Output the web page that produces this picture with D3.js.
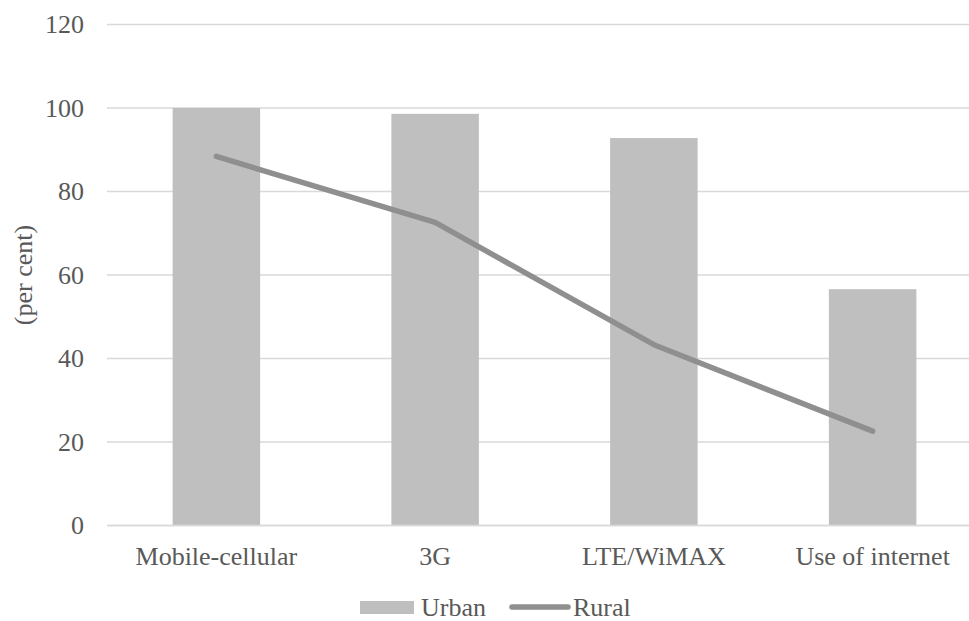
<!DOCTYPE html>
<html><head><meta charset="utf-8">
<script src="https://cdn.jsdelivr.net/npm/d3@7"></script>
<style>
body{margin:0;background:#fff}
svg{display:block}
svg text, svg g{font-family:"Liberation Serif","Times New Roman",Tinos,serif !important}
</style>
</head><body>
<svg id="c" width="969" height="621" font-family="Liberation Serif"></svg>
<script>
const categories = ["Mobile-cellular", "3G", "LTE/WiMAX", "Use of internet"];
const urban = [100, 98.6, 92.8, 56.6];
const rural = [88.4, 72.6, 43.3, 22.6];
const yTicks = [0, 20, 40, 60, 80, 100, 120];
const seriesNames = ["Urban", "Rural"];

(function () {
const svg = d3.select("#c");
const textColor = "#595959";
const ff = "Liberation Serif";
const fs = 26;
const mLeft = 107, mRight = 982, mTop = 24.5, mBottom = 525.5;

function styleText(sel) {
  sel.attr("font-family", ff).attr("font-size", fs)
     .style("font-family", '"Liberation Serif", serif').attr("fill", textColor);
}

const x = d3.scaleBand().domain(categories).range([mLeft, mRight]).padding(0);
const y = d3.scaleLinear().domain([0, 120]).range([mBottom, mTop]);

// gridlines
svg.append("g").selectAll("line").data(yTicks).join("line")
  .attr("x1", mLeft).attr("x2", mRight)
  .attr("y1", d => y(d)).attr("y2", d => y(d))
  .attr("stroke", "#d9d9d9").attr("stroke-width", 1.5);

// y axis labels
const yAxis = d3.axisLeft(y).tickValues(yTicks).tickSize(0).tickPadding(0);
const gy = svg.append("g").attr("transform", `translate(${mLeft - 23},0)`).call(yAxis);
gy.attr("font-family", ff).attr("font-size", fs);
gy.select(".domain").remove();
styleText(gy.selectAll("text"));

// bars
const bw = x.bandwidth() * 0.4;
svg.append("g").selectAll("rect").data(categories).join("rect")
  .attr("x", d => x(d) + x.bandwidth() / 2 - bw / 2)
  .attr("width", bw)
  .attr("y", (d, i) => y(urban[i]))
  .attr("height", (d, i) => y(0) - y(urban[i]))
  .attr("fill", "#bfbfbf");

// axis baseline
svg.append("line").attr("x1", mLeft).attr("x2", mRight).attr("y1", y(0)).attr("y2", y(0))
  .attr("stroke", "#d9d9d9").attr("stroke-width", 1.5);

// x axis labels
const xAxis = d3.axisBottom(x).tickSize(0).tickPadding(0);
const gx = svg.append("g").attr("transform", `translate(0,565)`).call(xAxis);
gx.attr("font-family", ff).attr("font-size", fs);
gx.select(".domain").remove();
styleText(gx.selectAll("text"));
gx.selectAll("text").attr("y", 0).attr("dy", 0);

// line
const line = d3.line().x((d, i) => x(categories[i]) + x.bandwidth() / 2).y(d => y(d));
svg.append("path").datum(rural).attr("d", line)
  .attr("fill", "none").attr("stroke", "#8f8f8f").attr("stroke-width", 5.5)
  .attr("stroke-linecap", "round").attr("stroke-linejoin", "round");

// y title
const yt = svg.append("text").attr("transform", `translate(22.5,275) rotate(-90)`)
  .attr("text-anchor", "middle").attr("dy", "0.35em").text("(per cent)");
styleText(yt);

// legend
const lg = svg.append("g");
lg.append("rect").attr("x", 360).attr("y", 601).attr("width", 54).attr("height", 13).attr("fill", "#bfbfbf");
styleText(lg.append("text").attr("x", 421).attr("y", 616).text(seriesNames[0]));
lg.append("line").attr("x1", 512).attr("x2", 568).attr("y1", 607).attr("y2", 607)
  .attr("stroke", "#8f8f8f").attr("stroke-width", 5.5).attr("stroke-linecap", "round");
styleText(lg.append("text").attr("x", 573).attr("y", 616).text(seriesNames[1]));
})();
</script>
</body></html>
